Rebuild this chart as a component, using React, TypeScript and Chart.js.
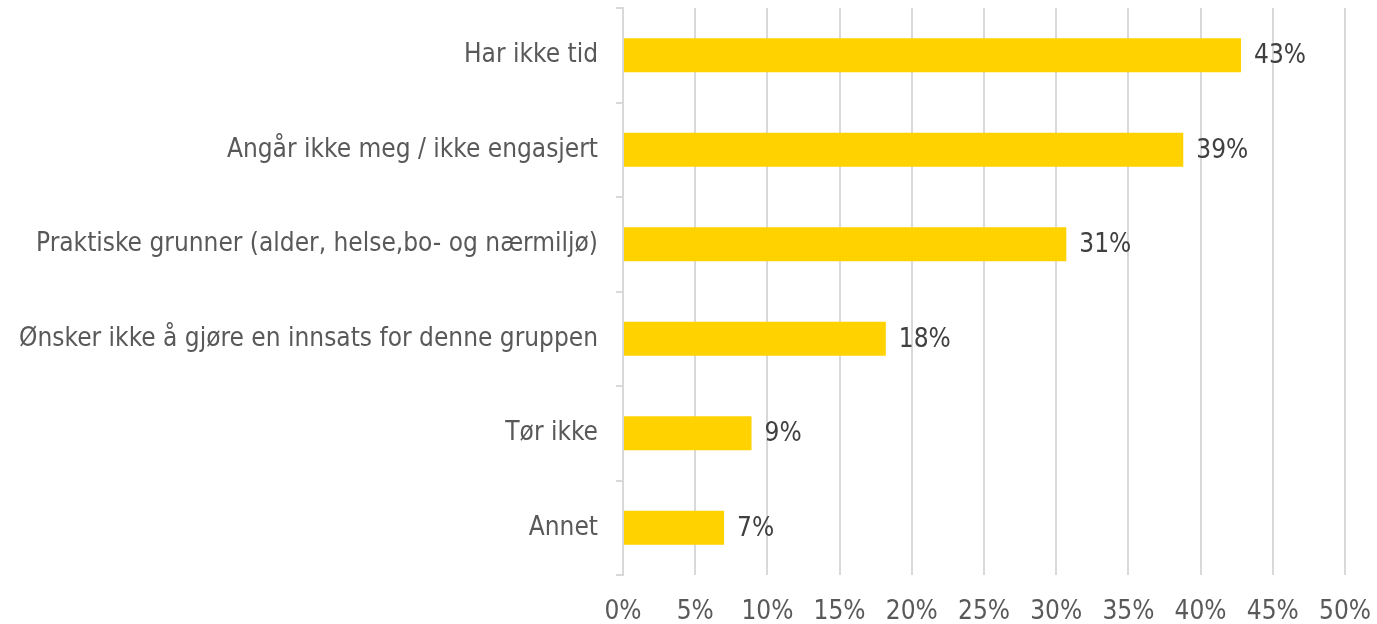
import React, { useEffect, useRef } from "react";
import { Chart, registerables } from "chart.js";

Chart.register(...registerables);

const categories = [
  "Har ikke tid",
  "Angår ikke meg / ikke engasjert",
  "Praktiske grunner (alder, helse,bo- og nærmiljø)",
  "Ønsker ikke å gjøre en innsats for denne gruppen",
  "Tør ikke",
  "Annet",
];
const values = [42.8, 38.8, 30.7, 18.2, 8.9, 7.0];
const xMin = 0;
const xMax = 50;
const xStep = 5;

const FONT = "'DejaVu Sans Condensed', 'DejaVu Sans', sans-serif";

const valueLabelPlugin = {
  id: "valueLabels",
  afterDatasetsDraw(chart: any) {
    const ctx = chart.ctx;
    const meta = chart.getDatasetMeta(0);
    ctx.save();
    ctx.font = `26px ${FONT}`;
    ctx.fillStyle = "#404040";
    ctx.textAlign = "left";
    ctx.textBaseline = "middle";
    meta.data.forEach((el: any, i: number) => {
      const v = chart.data.datasets[0].data[i];
      ctx.fillText(Math.round(v) + "%", el.x + 13, el.y + 1);
    });
    ctx.restore();
  },
};

export default function App() {
  const ref = useRef<HTMLCanvasElement | null>(null);
  useEffect(() => {
    if (!ref.current) return;
    const chart = new Chart(ref.current, {
      type: "bar",
      data: {
        labels: categories,
        datasets: [
          {
            data: values,
            backgroundColor: "#FFD200",
            categoryPercentage: 0.6,
            barPercentage: 0.6,
          },
        ],
      },
      plugins: [valueLabelPlugin],
      options: {
        indexAxis: "y",
        animation: false,
        responsive: true,
        maintainAspectRatio: false,
        layout: { padding: { top: 8, right: 32, left: 0, bottom: 0 } },
        plugins: {
          legend: { display: false },
          tooltip: { enabled: false },
        },
        scales: {
          x: {
            min: xMin,
            max: xMax,
            ticks: {
              stepSize: xStep,
              callback: (v: any) => v + "%",
              font: { family: FONT, size: 26 },
              color: "#595959",
              padding: 22,
              maxRotation: 0,
            },
            grid: {
              color: "#d9d9d9",
              lineWidth: 2,
              drawTicks: false,
            },
            border: { display: false },
            afterFit: (scale: any) => {
              scale.height = 49;
              scale.paddingLeft = 0;
              scale.paddingRight = 0;
            },
          },
          y: {
            ticks: {
              font: { family: FONT, size: 26 },
              color: "#595959",
              padding: 18,
            },
            grid: {
              offset: true,
              drawOnChartArea: false,
              color: "#d9d9d9",
              lineWidth: 2,
              tickLength: 7,
            },
            border: { display: true, color: "#d9d9d9", width: 2 },
            afterFit: (scale: any) => {
              scale.width = 623;
              scale.paddingTop = 0;
              scale.paddingBottom = 0;
            },
          },
        },
      },
    });
    return () => chart.destroy();
  }, []);
  return (
    <div style={{ position: "fixed", left: 0, top: 0, width: 1377, height: 624, background: "#fff" }}>
      <canvas ref={ref} />
    </div>
  );
}
